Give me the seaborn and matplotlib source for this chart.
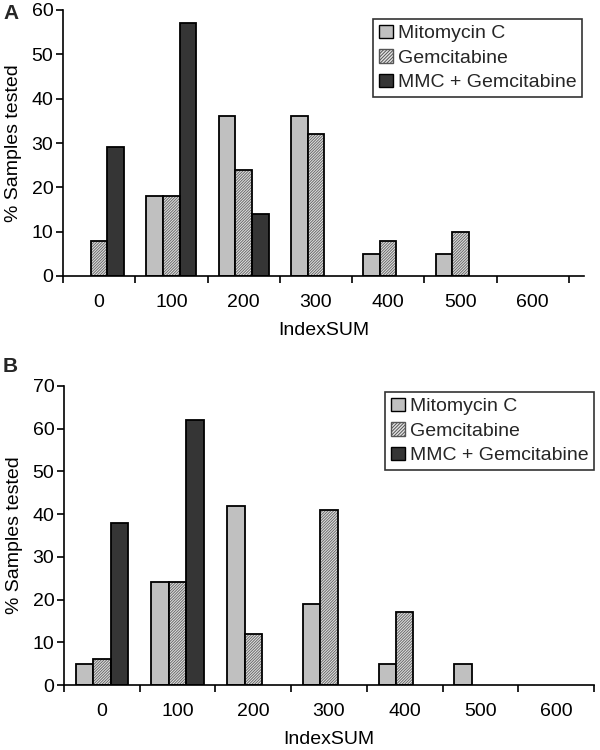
import numpy as np
import pandas as pd
import matplotlib
matplotlib.use("Agg")
import matplotlib.pyplot as plt
import seaborn as sns
from matplotlib.patches import Rectangle, Patch

categories = ["0", "100", "200", "300", "400", "500", "600"]
series = ["Mitomycin C", "Gemcitabine", "MMC + Gemcitabine"]

a_mito = [0, 18, 36, 36, 5, 5, 0]
a_gem = [8, 18, 24, 32, 8, 10, 0]
a_mmc = [29, 57, 14, 0, 0, 0, 0]

b_mito = [5, 24, 42, 19, 5, 5, 0]
b_gem = [6, 24, 12, 41, 17, 0, 0]
b_mmc = [38, 62, 0, 0, 0, 0, 0]

a_yticks = [0, 10, 20, 30, 40, 50, 60]
b_yticks = [0, 10, 20, 30, 40, 50, 60, 70]

colors = {"Mitomycin C": "#c0c0c0", "Gemcitabine": "#e4e4e4", "MMC + Gemcitabine": "#353535"}
HATCH = "////////////"
FS = 14

sns.set_theme(style="ticks")
plt.rcParams['font.family'] = ['Liberation Sans', 'DejaVu Sans']
plt.rcParams['hatch.linewidth'] = 0.7


def long_df(mito, gem, mmc):
    rows = []
    for s, vals in zip(series, [mito, gem, mmc]):
        for c, v in zip(categories, vals):
            rows.append({"IndexSUM": c, "value": v, "series": s})
    return pd.DataFrame(rows)


def draw(ax, mito, gem, mmc, yticks, xextra, legend_anchor):
    df = long_df(mito, gem, mmc)
    sns.barplot(data=df, x="IndexSUM", y="value", hue="series", order=categories,
                hue_order=series, palette=colors, saturation=1, width=0.69,
                edgecolor="black", linewidth=1.3, ax=ax, legend=False)
    for i, cont in enumerate(ax.containers):
        for p in cont.patches:
            if p.get_height() == 0:
                p.set_visible(False)
                continue
            if series[i] == "Gemcitabine":
                p.set_hatch(HATCH)
                p.set_edgecolor("#6a6a6a")
                p.set_linewidth(0)
                ax.add_patch(Rectangle(p.get_xy(), p.get_width(), p.get_height(),
                                       fill=False, edgecolor="black", linewidth=1.3, zorder=p.get_zorder() + 0.1))
    ax.set_xlim(-0.5, len(categories) - 0.5 + xextra)
    ax.set_ylim(yticks[0], yticks[-1])
    ax.set_yticks(yticks)
    ax.set_xticks(range(len(categories)))
    ax.set_xticklabels(categories)
    ax.set_xticks(np.arange(-0.5, len(categories), 1.0), minor=True)
    ax.tick_params(axis="x", which="major", length=0, pad=13, labelsize=FS, colors="black")
    ax.tick_params(axis="x", which="minor", length=5, width=1.2, direction="out", color="black")
    ax.tick_params(axis="y", length=5, width=1.2, direction="out", labelsize=FS, pad=2, colors="black")
    sns.despine(ax=ax)
    for sp in ["left", "bottom"]:
        ax.spines[sp].set_linewidth(1.2)
        ax.spines[sp].set_color("black")
    ax.set_xlabel("IndexSUM", fontsize=FS, labelpad=8, color="black")
    ax.set_ylabel("% Samples tested", fontsize=FS, labelpad=7, color="black")
    handles = [Patch(facecolor=colors["Mitomycin C"], edgecolor="black", linewidth=1.0),
               Patch(facecolor="#e4e4e4", edgecolor="#555555", hatch="//////////", linewidth=1.0),
               Patch(facecolor=colors["MMC + Gemcitabine"], edgecolor="black", linewidth=1.0)]
    leg = ax.legend(handles, series, loc="upper right", bbox_to_anchor=legend_anchor,
                    bbox_transform=ax.figure.transFigure, fontsize=FS, frameon=True,
                    fancybox=False, shadow=False, handlelength=0.7, handleheight=0.7,
                    handletextpad=0.25, labelspacing=0.35, borderpad=0.3, borderaxespad=0)
    leg.get_frame().set_edgecolor("black")
    leg.get_frame().set_linewidth(1.2)


fig = plt.figure(figsize=(6, 7.5), dpi=100)
ax_a = fig.add_axes([63 / 600, 1 - 276 / 750, 521 / 600, 266 / 750])
ax_b = fig.add_axes([64 / 600, 1 - 685 / 750, 530 / 600, 299 / 750])

draw(ax_a, a_mito, a_gem, a_mmc, a_yticks, 0.21, (582 / 600, 1 - 19 / 750))
draw(ax_b, b_mito, b_gem, b_mmc, b_yticks, 0.0, (594 / 600, 1 - 392 / 750))

fig.text(3 / 600, 1 - 4 / 750, "A", fontsize=15, fontweight="bold", va="top", ha="left")
fig.text(3 / 600, 1 - 357 / 750, "B", fontsize=15, fontweight="bold", va="top", ha="left")

fig.savefig("out.png", dpi=100)
